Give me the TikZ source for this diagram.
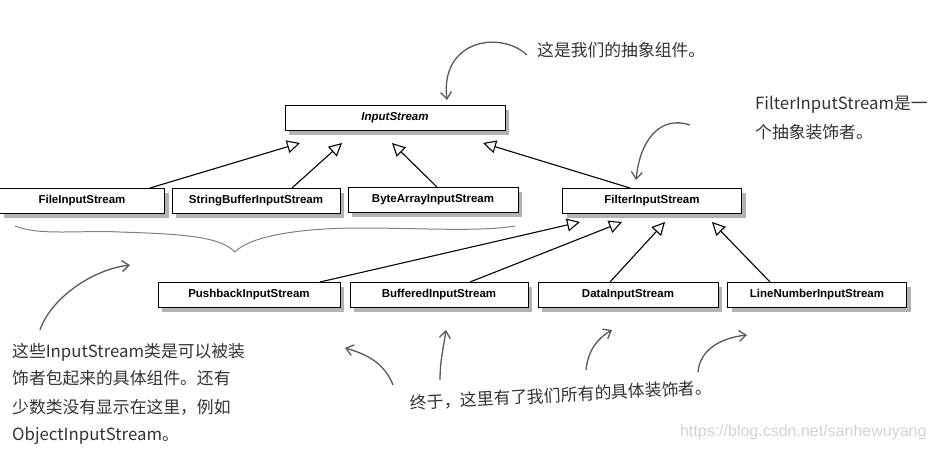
\documentclass[tikz,border=0pt]{standalone}
\usepackage{fontspec}
\setmainfont{Liberation Sans}
\newfontfamily\cjk{Noto Sans CJK SC}
\usetikzlibrary{shadows,arrows.meta}
\begin{document}
\begin{tikzpicture}[x=1pt,y=-1pt,
 cls/.style={draw,line width=1pt,fill=white,minimum height=25pt,font=\bfseries\fontsize{11.5}{13}\selectfont,drop shadow={shadow xshift=4pt,shadow yshift=-4pt,opacity=0.6,fill=gray}},
 inh/.style={line width=1.1pt,-{Triangle[open,length=13pt,width=13pt]}},
 note/.style={gray!70!black,line width=1.3pt,-{Straight Barb[length=7pt,width=11pt]}},
 ann/.style={font=\cjk\fontsize{16.8}{19}\selectfont,text=black!80,anchor=west,inner sep=0}]
\useasboundingbox (0,0) rectangle (935,451);
\node[cls,minimum width=220pt,font=\bfseries\itshape\fontsize{11.5}{13}\selectfont] (is) at (395,118) {InputStream};
\node[cls,minimum width=165pt] (fis) at (82,201) {FileInputStream};
\node[cls,minimum width=168pt] (sbis) at (256,201) {StringBufferInputStream};
\node[cls,minimum width=170pt] (bais) at (433,200) {ByteArrayInputStream};
\node[cls,minimum width=179pt] (filt) at (652,201) {FilterInputStream};
\node[cls,minimum width=182pt] (pb) at (249,295) {PushbackInputStream};
\node[cls,minimum width=178pt] (buf) at (439,295) {BufferedInputStream};
\node[cls,minimum width=180pt] (dat) at (628,295) {DataInputStream};
\node[cls,minimum width=179pt] (ln) at (817,295) {LineNumberInputStream};
\coordinate (t1) at (300,143);\coordinate (t2) at (342,143);
\coordinate (t3) at (392,143);\coordinate (t4) at (483,143);
\draw[inh] (fis.north -| 150,0) -- (t1);
\draw[inh] (sbis.north -| 292,0) -- (t2);
\draw[inh] (bais.north -| 437,0) -- (t3);
\draw[inh] (filt.north -| 630,0) -- (t4);
\coordinate (u1) at (580,222);\coordinate (u2) at (622,222);
\coordinate (u3) at (665,222);\coordinate (u4) at (712,222);
\draw[inh] (pb.north -| 320,0) -- (u1);
\draw[inh] (buf.north -| 470,0) -- (u2);
\draw[inh] (dat.north -| 610,0) -- (u3);
\draw[inh] (ln.north -| 770,0) -- (u4);
% brace
\draw[gray,line width=1pt] (15,226) .. controls (40,236) and (80,230) .. (120,232) .. controls (180,234) and (220,236) .. (235,252) .. controls (250,236) and (300,228) .. (360,228) .. controls (420,228) and (480,232) .. (515,226);
% hand arrows
\coordinate (a1s) at (527,55);\coordinate (a1e) at (447,100);
\draw[note] (a1s) .. controls (500,30) and (440,40) .. (a1e);
\coordinate (a2s) at (690,125);\coordinate (a2e) at (636,180);
\draw[note] (a2s) .. controls (660,115) and (640,140) .. (a2e);
\coordinate (a3s) at (40,330);\coordinate (a3e) at (130,265);
\draw[note] (a3s) .. controls (50,300) and (90,270) .. (a3e);
\coordinate (a4s) at (393,385);\coordinate (a4e) at (345,348);
\draw[note] (a4s) .. controls (385,365) and (370,355) .. (a4e);
\coordinate (a5s) at (440,380);\coordinate (a5e) at (446,330);
\draw[note] (a5s) .. controls (440,360) and (444,345) .. (a5e);
\coordinate (a6s) at (586,370);\coordinate (a6e) at (612,330);
\draw[note] (a6s) .. controls (588,350) and (598,338) .. (a6e);
\coordinate (a7s) at (698,372);\coordinate (a7e) at (747,335);
\draw[note] (a7s) .. controls (700,350) and (720,338) .. (a7e);
% texts
\node[ann] (n1) at (537,50) {这是我们的抽象组件。};
\node[ann] (n2) at (755,105) {FilterInputStream是一};
\node[ann] (n3) at (755,132) {个抽象装饰者。};
\node[ann] (n4) at (12,352) {这些InputStream类是可以被装};
\node[ann] (n5) at (12,378) {饰者包起来的具体组件。还有};
\node[ann] (n6) at (12,407) {少数类没有显示在这里，例如};
\node[ann] (n7) at (12,436) {ObjectInputStream。};
\node[ann,rotate=3] (n8) at (410,403) {终于，这里有了我们所有的具体装饰者。};
\node[font=\fontsize{16}{18}\selectfont,text=gray!35,anchor=east] (wm) at (930,432) {https://blog.csdn.net/sanhewuyang};
\end{tikzpicture}
\end{document}
